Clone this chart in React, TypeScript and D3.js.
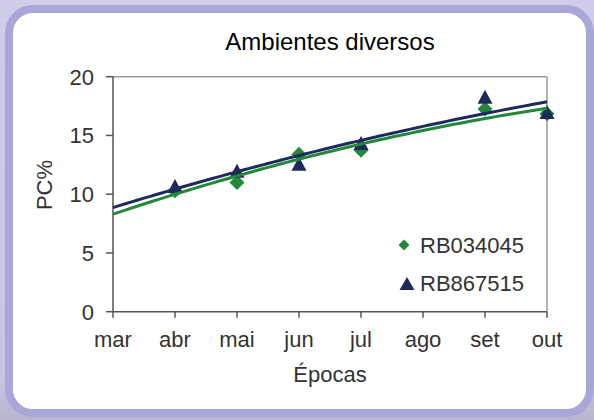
import React from "react";
import * as d3 from "d3";

const categories = ["mar", "abr", "mai", "jun", "jul", "ago", "set", "out"];
const rb034045: (number | null)[] = [null, 10.3, 11.0, 13.4, 13.75, null, 17.25, 16.85];
const rb867515: (number | null)[] = [null, 10.7, 12.0, 12.6, 14.35, null, 18.3, 17.0];
const yTicks = [0, 5, 10, 15, 20];
const seriesNames = ["RB034045", "RB867515"];

const GREEN = "#23883a";
const NAVY = "#1d2b5c";

function quadFit(vals: (number | null)[]) {
  // least squares y = a + b x + c x^2, x = 1-based index
  const pts = vals
    .map((v, i) => (v == null ? null : [i + 1, v]))
    .filter((p): p is number[] => p != null);
  const S = [0, 0, 0, 0, 0];
  const T = [0, 0, 0];
  pts.forEach(([x, y]) => {
    for (let k = 0; k < 5; k++) S[k] += Math.pow(x, k);
    for (let k = 0; k < 3; k++) T[k] += y * Math.pow(x, k);
  });
  const M = [
    [S[0], S[1], S[2], T[0]],
    [S[1], S[2], S[3], T[1]],
    [S[2], S[3], S[4], T[2]],
  ];
  for (let i = 0; i < 3; i++) {
    for (let j = i + 1; j < 3; j++) {
      const f = M[j][i] / M[i][i];
      for (let k = i; k < 4; k++) M[j][k] -= f * M[i][k];
    }
  }
  const r = [0, 0, 0];
  for (let i = 2; i >= 0; i--) {
    let s = M[i][3];
    for (let k = i + 1; k < 3; k++) s -= M[i][k] * r[k];
    r[i] = s / M[i][i];
  }
  return (x: number) => r[0] + r[1] * x + r[2] * x * x;
}

export default function App() {
  const W = 594,
    H = 420;
  const left = 113,
    right = 547,
    top = 76.7,
    bottom = 311.7;
  const x = d3.scalePoint<string>().domain(categories).range([left, right]);
  const xc = d3.scaleLinear().domain([1, categories.length]).range([left, right]);
  const y = d3.scaleLinear().domain([0, 20]).range([bottom, top]);
  const font = "'Liberation Sans', Arial, sans-serif";

  const samples = d3.range(1, categories.length + 0.001, 0.1);
  const trend = (vals: (number | null)[]) => {
    const f = quadFit(vals);
    return d3
      .line<number>()
      .x((t) => xc(t))
      .y((t) => y(f(t)))(samples) as string;
  };

  const diamond = (cx: number, cy: number, r: number) =>
    `M${cx},${cy - r}L${cx + r},${cy}L${cx},${cy + r}L${cx - r},${cy}Z`;
  const triangle = (cx: number, cy: number, hw: number, h: number) =>
    `M${cx},${cy - h / 2}L${cx + hw},${cy + h / 2}L${cx - hw},${cy + h / 2}Z`;

  return (
    <svg
      width={W}
      height={H}
      style={{ position: "absolute", left: 0, top: 0 }}
      fontFamily={font}
    >
      <defs>
        <linearGradient id="bg" x1="0" y1="0" x2="0" y2="1">
          <stop offset="0" stopColor="#cfcdea" />
          <stop offset="0.9" stopColor="#c6c4e4" />
          <stop offset="1" stopColor="#b7b5cf" />
        </linearGradient>
      </defs>
      <rect x={0} y={0} width={W} height={H} fill="url(#bg)" />
      <rect
        x={9}
        y={9}
        width={581}
        height={404}
        rx={24}
        ry={24}
        fill="#ffffff"
        stroke="#a9a6d8"
        strokeWidth={8}
      />

      {/* title */}
      <text x={330} y={49.5} fontSize={24} textAnchor="middle" fill="#000">
        Ambientes diversos
      </text>

      {/* plot frame */}
      <line x1={left} y1={top} x2={right} y2={top} stroke="#9a9a9a" strokeWidth={1.5} />
      <line x1={right} y1={top} x2={right} y2={bottom} stroke="#9a9a9a" strokeWidth={1.5} />
      <line x1={left} y1={top} x2={left} y2={bottom} stroke="#555" strokeWidth={1.5} />
      <line x1={left} y1={bottom} x2={right} y2={bottom} stroke="#555" strokeWidth={1.5} />

      {/* y ticks */}
      {yTicks.map((t) => (
        <g key={t}>
          <line x1={left - 7} x2={left} y1={y(t)} y2={y(t)} stroke="#555" strokeWidth={1.5} />
          <text x={94} y={y(t)} dy="0.36em" fontSize={22} textAnchor="end" fill="#333">
            {t}
          </text>
        </g>
      ))}

      {/* x ticks */}
      {categories.map((c) => (
        <g key={c}>
          <line
            x1={x(c)!}
            x2={x(c)!}
            y1={bottom}
            y2={bottom + 6}
            stroke="#555"
            strokeWidth={1.5}
          />
          <text x={x(c)!} y={347} fontSize={22} textAnchor="middle" fill="#333">
            {c}
          </text>
        </g>
      ))}

      {/* axis titles */}
      <text x={330} y={382} fontSize={22} textAnchor="middle" fill="#333">
        Épocas
      </text>
      <text
        transform="translate(52,185) rotate(-90)"
        fontSize={22}
        textAnchor="middle"
        fill="#333"
      >
        PC%
      </text>

      {/* markers */}
      {rb034045.map((v, i) =>
        v == null ? null : (
          <path key={"g" + i} d={diamond(x(categories[i])!, y(v), 7.5)} fill={GREEN} />
        )
      )}
      {rb867515.map((v, i) =>
        v == null ? null : (
          <path
            key={"n" + i}
            d={triangle(x(categories[i])!, y(v), 7.5, 14)}
            fill={NAVY}
          />
        )
      )}

      {/* trend lines */}
      <path d={trend(rb034045)} fill="none" stroke={GREEN} strokeWidth={3} />
      <path d={trend(rb867515)} fill="none" stroke={NAVY} strokeWidth={3} />

      {/* legend */}
      <path d={diamond(404, 245, 5.5)} fill={GREEN} />
      <text x={420} y={253} fontSize={22} fill="#333">
        {seriesNames[0]}
      </text>
      <path d={triangle(407, 283.5, 7.5, 13)} fill={NAVY} />
      <text x={420} y={290.5} fontSize={22} fill="#333">
        {seriesNames[1]}
      </text>
    </svg>
  );
}
